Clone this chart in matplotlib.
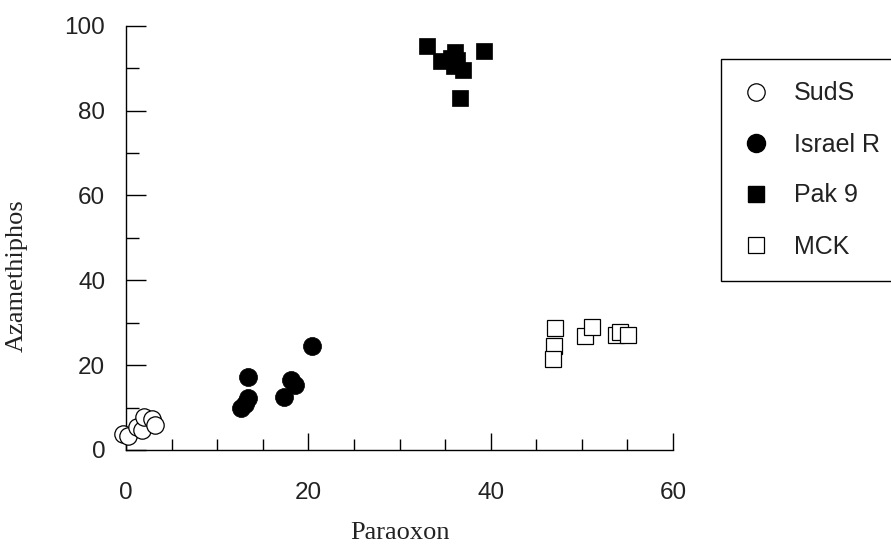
import matplotlib
matplotlib.use("Agg")
import matplotlib.pyplot as plt
from matplotlib.lines import Line2D

# ---- data ----
suds_x = [-0.3, 0.2, 1.2, 1.8, 2.0, 2.9, 3.2]
suds_y = [3.8, 3.2, 5.5, 4.8, 7.8, 7.2, 6.0]

israel_x = [20.4, 13.4, 12.6, 13.1, 13.4, 18.1, 18.5, 17.3]
israel_y = [24.5, 17.1, 10.0, 10.8, 12.3, 16.6, 15.4, 12.5]

pak_x = [33.0, 34.5, 35.6, 36.1, 36.3, 36.0, 37.0, 39.3, 36.6]
pak_y = [95.1, 91.7, 92.5, 93.8, 92.0, 90.6, 89.6, 94.1, 83.0]

mck_x = [47.1, 46.9, 46.8, 50.4, 51.1, 53.8, 54.2, 55.1]
mck_y = [28.8, 24.6, 21.4, 26.9, 28.9, 27.2, 27.8, 27.1]

series_labels = ["SudS", "Israel R", "Pak 9", "MCK"]
x_ticks = [0, 20, 40, 60]
y_ticks = [0, 20, 40, 60, 80, 100]

SANS = "Liberation Sans"
SERIF = "Liberation Serif"

fig = plt.figure(figsize=(8.91, 5.47), dpi=100)
fig.patch.set_facecolor("white")
ax = fig.add_axes([126 / 891, 97 / 547, (673 - 126) / 891, (450 - 25.7) / 547])

common = dict(linestyle="none", clip_on=False, zorder=3)
ax.plot(suds_x, suds_y, marker="o", ms=12.5, mfc="white", mec="black", mew=0.9, **common)
ax.plot(israel_x, israel_y, marker="o", ms=13, mfc="black", mec="black", mew=0.5, **common)
ax.plot(pak_x, pak_y, marker="s", ms=11.5, mfc="black", mec="black", mew=0.5, **common)
ax.plot(mck_x, mck_y, marker="s", ms=12, mfc="white", mec="black", mew=0.9, **common)

ax.set_xlim(0, 60)
ax.set_ylim(0, 100)
for s in ["top", "right"]:
    ax.spines[s].set_visible(False)
for s in ["left", "bottom"]:
    ax.spines[s].set_linewidth(1.0)

ax.set_xticks(x_ticks)
ax.set_xticks(range(0, 61, 5), minor=True)
ax.set_yticks(y_ticks)
ax.set_yticks(range(0, 101, 10), minor=True)
ax.tick_params(axis="x", which="major", direction="in", length=12, width=1.0, pad=23)
ax.tick_params(axis="x", which="minor", direction="in", length=8, width=1.0)
ax.tick_params(axis="y", which="major", direction="in", length=14.5, width=1.0, pad=15)
ax.tick_params(axis="y", which="minor", direction="in", length=9, width=1.0)
for lab in ax.get_xticklabels() + ax.get_yticklabels():
    lab.set_fontfamily(SANS)
    lab.set_fontsize(17.5)
    lab.set_color("#222222")

ax.set_xlabel("Paraoxon", fontfamily=SERIF, fontsize=19, color="#222222")
ax.xaxis.set_label_coords(0.5, -0.17)
ax.set_ylabel("Azamethiphos", fontfamily=SERIF, fontsize=19, color="#222222")
ax.yaxis.set_label_coords(-0.18, 0.41)

handles = [
    Line2D([], [], marker="o", ls="none", ms=12.5, mfc="white", mec="black", mew=0.9),
    Line2D([], [], marker="o", ls="none", ms=13, mfc="black", mec="black"),
    Line2D([], [], marker="s", ls="none", ms=11.5, mfc="black", mec="black"),
    Line2D([], [], marker="s", ls="none", ms=12, mfc="white", mec="black", mew=0.9),
]
leg = fig.legend(handles, series_labels, loc="upper left",
                 bbox_to_anchor=(721 / 891, 1 - 59 / 547), borderaxespad=0,
                 prop={"family": SANS, "size": 18}, frameon=True, fancybox=False,
                 edgecolor="black", framealpha=1, borderpad=0.9, labelspacing=1.08,
                 handlelength=1.0, handletextpad=1.0)
leg.get_frame().set_linewidth(1.0)
for t in leg.get_texts():
    t.set_color("#222222")

fig.savefig("out.png", dpi=100, facecolor="white")
